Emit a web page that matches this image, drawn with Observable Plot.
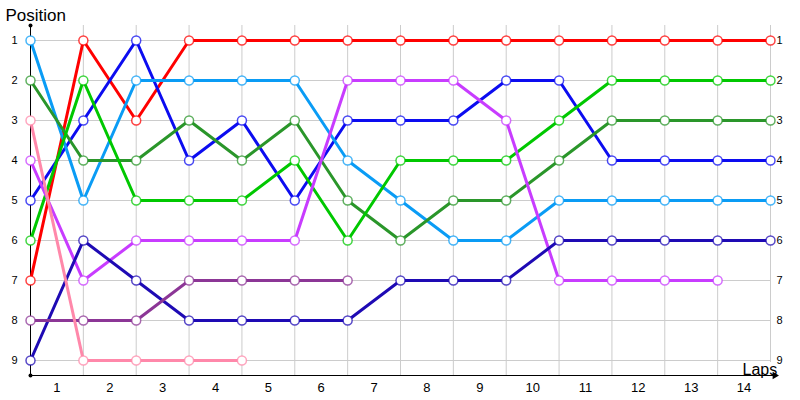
<!DOCTYPE html>
<html><head><meta charset="utf-8">
<script src="https://cdn.jsdelivr.net/npm/d3@7"></script>
<script src="https://cdn.jsdelivr.net/npm/@observablehq/plot@0.6"></script>
<style>body{margin:0;background:#fff;} #chart svg{display:block;}</style>
</head><body><div id="chart"></div>
<script>
const laps = [0,1,2,3,4,5,6,7,8,9,10,11,12,13,14];
const lapTicks = [0.5,1.5,2.5,3.5,4.5,5.5,6.5,7.5,8.5,9.5,10.5,11.5,12.5,13.5];
const lapLabels = ["1","2","3","4","5","6","7","8","9","10","11","12","13","14"];
const positions = [1,2,3,4,5,6,7,8,9];

const seriesNames = ["Driver A","Driver B","Driver C","Driver D","Driver E","Driver F","Driver G","Driver H","Driver I"];
const seriesColors = ["#ff0000","#0c0cf0","#0a9cf5","#2a962a","#00c800","#c83cff","#1e0ab4","#8c3696","#ff88aa"];

const posA = [7,1,3,1,1,1,1,1,1,1,1,1,1,1,1];
const posB = [5,3,1,4,3,5,3,3,3,2,2,4,4,4,4];
const posC = [1,5,2,2,2,2,4,5,6,6,5,5,5,5,5];
const posD = [2,4,4,3,4,3,5,6,5,5,4,3,3,3,3];
const posE = [6,2,5,5,5,4,6,4,4,4,3,2,2,2,2];
const posF = [4,7,6,6,6,6,2,2,2,3,7,7,7,7];
const posG = [9,6,7,8,8,8,8,7,7,7,6,6,6,6,6];
const posH = [8,8,8,7,7,7,7];
const posI = [3,9,9,9,9];

const seriesPositions = [posA,posB,posC,posD,posE,posF,posG,posH,posI];
const data = [];
seriesNames.forEach((name,i)=>{
  seriesPositions[i].forEach((p,j)=>data.push({series:name, lap:laps[j], pos:p}));
});

const font = "Liberation Sans, Arial, sans-serif";
const chart = Plot.plot({
  width: 800, height: 400,
  marginLeft: 30, marginRight: 30, marginTop: 40, marginBottom: 40,
  style: {fontFamily: font, fontSize: "12px", background: "#fff", overflow: "visible"},
  x: {domain: [0,14]},
  y: {domain: [1,9], reverse: true},
  color: {type: "ordinal", domain: seriesNames, range: seriesColors},
  marks: [
    Plot.ruleY(positions, {x1: 0, x2: 14, stroke: "#cccccc", strokeWidth: 1}),
    Plot.ruleX(laps.slice(1,14), {y1: 0.625, y2: 9.375, stroke: "#cccccc", strokeWidth: 1}),
    Plot.ruleX([14], {y1: 0.625, y2: 9.05, stroke: "#cccccc", strokeWidth: 1}),
    Plot.ruleX([0], {y1: 0.625, y2: 9.375, stroke: "#000", strokeWidth: 1}),
    Plot.ruleY([9.375], {x1: 0, x2: 14.12, stroke: "#000", strokeWidth: 1}),
    Plot.dot([[0,0.625],[0,9.375]], {x: d=>d[0], y: d=>d[1], r: 2, fill: "#000"}),
    Plot.dot([[14.08,9.375]], {x: d=>d[0], y: d=>d[1], symbol: "triangle2", rotate: 90, r: 3.5, fill: "#000"}),
    Plot.line(data, {x: "lap", y: "pos", z: "series", stroke: "series", strokeWidth: 3, curve: "linear"}),
    Plot.dot(data, {x: "lap", y: "pos", stroke: "series", fill: "white", r: 4.5, strokeWidth: 1.5, strokeOpacity: 0.75}),
    Plot.axisY(positions, {anchor: "left", tickSize: 0, tickPadding: 13, label: null, fontSize: 11, fill: "#000"}),
    Plot.axisY(positions, {anchor: "right", tickSize: 0, tickPadding: 6, label: null, fontSize: 11, fill: "#000"}),
    Plot.axisX(lapTicks, {anchor: "bottom", tickSize: 0, tickPadding: 22, label: null, fontSize: 13, fill: "#000",
      tickFormat: d => lapLabels[lapTicks.indexOf(d)]}),
    Plot.text(["Position"], {frameAnchor: "top-left", dx: -25, dy: -25, textAnchor: "start", lineAnchor: "middle", fontSize: 17, fill: "#000"}),
    Plot.text(["Laps"], {frameAnchor: "bottom-right", dx: -28, dy: 9, textAnchor: "start", lineAnchor: "middle", fontSize: 16, fill: "#000"})
  ]
});
document.getElementById("chart").append(chart);
</script>
</body></html>
